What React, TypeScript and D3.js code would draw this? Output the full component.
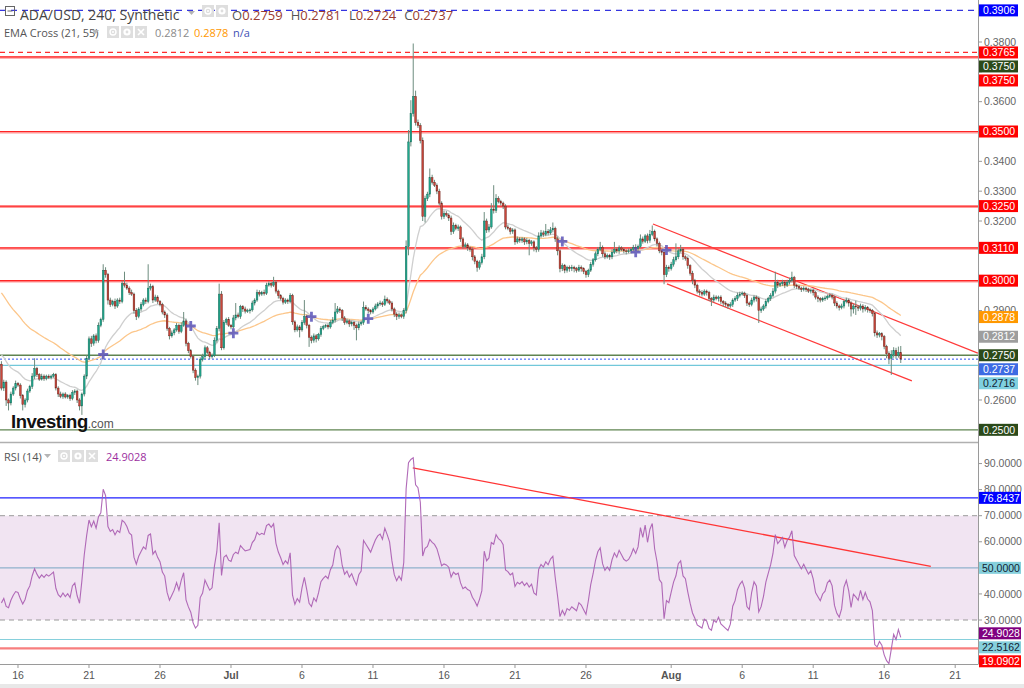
import React, { useMemo } from "react";
import * as d3 from "d3";

// ---------- DATA (prices in units of 0.0001) ----------
const firstCandleTime = Date.UTC(2023, 5, 14, 20); // 4h candles
const candleMs = 4 * 3600 * 1000;
const firstOpen = 2720;
const closes = [
  2640, 2660, 2600, 2590, 2620, 2640, 2655, 2650, 2615, 2585,
  2600, 2630, 2645, 2680, 2705, 2685, 2670, 2680, 2672, 2680,
  2675, 2680, 2685, 2640, 2620, 2612, 2620, 2610, 2615, 2605,
  2625, 2630, 2600, 2580, 2620, 2680, 2740, 2805, 2790, 2815,
  2800, 2850, 2870, 3035, 3020, 2935, 2920, 2930, 2915, 2935,
  2930, 2990, 2985, 2975, 2960, 2955, 2900, 2880, 2905, 2920,
  2935, 2930, 2975, 2980, 2935, 2945, 2930, 2920, 2895, 2885,
  2840, 2815, 2825, 2835, 2850, 2830, 2850, 2865, 2790, 2765,
  2745, 2700, 2675, 2680, 2735, 2745, 2775, 2760, 2745, 2750,
  2800, 2840, 2955, 2775, 2860, 2870, 2850, 2845, 2875, 2885,
  2880, 2913, 2905, 2898, 2900, 2902, 2925, 2935, 2960, 2955,
  2960, 2958, 2985, 2990, 2985, 2995, 2965, 2950, 2940, 2928,
  2935, 2930, 2950, 2862, 2835, 2845, 2835, 2860, 2880, 2850,
  2810, 2800, 2815, 2805, 2820, 2840, 2846, 2850, 2845, 2860,
  2868, 2895, 2905, 2900, 2875, 2860, 2865, 2855, 2860, 2850,
  2842, 2855, 2860, 2910, 2905, 2900, 2895, 2905, 2915, 2922,
  2925, 2920, 2938, 2932, 2925, 2905, 2888, 2880, 2885, 2880,
  2900, 3115, 3465, 3560, 3617, 3530, 3520, 3470, 3215, 3275,
  3290, 3345, 3330, 3320, 3300, 3260, 3215, 3225, 3220, 3210,
  3165, 3185, 3175, 3180, 3140, 3115, 3120, 3110, 3105, 3080,
  3065, 3045, 3060, 3080, 3200, 3170, 3180, 3240, 3235, 3275,
  3265, 3260, 3250, 3180, 3175, 3165, 3170, 3130, 3140, 3135,
  3140, 3130, 3135, 3125, 3130, 3110, 3105, 3150, 3160, 3155,
  3165, 3160, 3170, 3175, 3140, 3100, 3040, 3050, 3035, 3045,
  3040, 3045, 3040, 3035, 3045, 3040, 3030, 3020, 3035, 3055,
  3070, 3090, 3105, 3112, 3090, 3080, 3085, 3080, 3095, 3105,
  3100, 3110, 3105, 3100, 3098, 3100, 3105, 3112, 3108, 3115,
  3140, 3132, 3150, 3135, 3155, 3165, 3140, 3125, 3100, 3095,
  3020, 3045, 3040, 3055, 3070, 3080, 3100, 3105, 3080, 3075,
  3050, 3025, 3000, 2985, 2965, 2960, 2955, 2965, 2960, 2940,
  2935, 2945, 2940, 2945, 2930, 2925, 2920, 2915, 2920, 2935,
  2940, 2950, 2955, 2958, 2950, 2925, 2920, 2935, 2945, 2940,
  2900, 2905, 2915, 2930, 2940, 2950, 2965, 2995, 2985, 2990,
  2995, 2985, 2995, 3000, 3010, 2985, 2980, 2975, 2970, 2975,
  2970, 2965, 2968, 2960, 2945, 2940, 2935, 2940, 2942, 2948,
  2950, 2945, 2925, 2915, 2910, 2915, 2930, 2935, 2925, 2905,
  2915, 2912, 2908, 2915, 2905, 2910, 2903, 2900, 2890, 2825,
  2818, 2822, 2812, 2780, 2755, 2740, 2752, 2765, 2750, 2759,
  2737,
];
const upperWicks = [
  10, 8, 6, 5, 8, 6, 10, 5, 6, 5,
  6, 8, 6, 10, 35, 6, 5, 8, 6, 5,
  6, 5, 6, 5, 6, 8, 5, 6, 5, 6,
  8, 6, 5, 6, 5, 6, 10, 8, 10, 6,
  8, 10, 6, 20, 10, 6, 8, 6, 10, 6,
  8, 10, 40, 8, 6, 10, 5, 8, 6, 8,
  6, 8, 80, 10, 6, 8, 6, 5, 6, 5,
  6, 5, 8, 6, 8, 6, 10, 30, 8, 5,
  6, 5, 6, 5, 8, 10, 8, 6, 5, 6,
  10, 8, 35, 10, 8, 6, 8, 5, 10, 40,
  8, 6, 5, 8, 6, 5, 8, 6, 10, 8,
  6, 10, 8, 8, 6, 18, 6, 5, 5, 6,
  6, 5, 8, 6, 5, 8, 6, 8, 55, 6,
  5, 6, 8, 6, 5, 8, 6, 5, 6, 8,
  10, 30, 10, 6, 5, 6, 8, 5, 6, 5,
  6, 8, 6, 20, 8, 6, 5, 6, 8, 6,
  8, 6, 12, 6, 5, 6, 5, 6, 8, 5,
  8, 20, 40, 45, 178, 20, 10, 8, 10, 10,
  8, 31, 10, 8, 6, 8, 6, 10, 8, 6,
  8, 10, 6, 8, 5, 6, 8, 6, 5, 6,
  6, 5, 8, 10, 30, 8, 10, 20, 80, 15,
  8, 6, 5, 6, 8, 5, 6, 5, 8, 6,
  6, 5, 8, 5, 6, 5, 6, 12, 10, 8,
  25, 8, 10, 20, 6, 8, 5, 8, 6, 5,
  6, 8, 5, 6, 8, 6, 5, 6, 5, 8,
  6, 8, 8, 18, 6, 8, 6, 5, 10, 25,
  6, 8, 5, 6, 5, 8, 6, 8, 10, 6,
  15, 8, 6, 8, 15, 20, 6, 5, 6, 5,
  6, 8, 6, 8, 10, 45, 8, 15, 6, 5,
  6, 5, 8, 6, 5, 6, 8, 6, 5, 6,
  5, 8, 6, 5, 6, 5, 6, 5, 8, 6,
  8, 10, 8, 6, 5, 6, 5, 8, 6, 5,
  6, 8, 6, 8, 6, 8, 10, 35, 8, 6,
  8, 6, 8, 10, 20, 6, 5, 6, 5, 6,
  5, 6, 5, 6, 5, 6, 5, 6, 8, 6,
  8, 6, 5, 6, 5, 8, 6, 8, 5, 6,
  8, 18, 6, 8, 6, 8, 5, 6, 5, 6,
  8, 6, 5, 6, 5, 8, 15, 12, 10, 20,
  22,
];
const lowerWicks = [
  8, 10, 20, 25, 8, 6, 8, 6, 10, 20,
  10, 8, 6, 8, 10, 8, 6, 5, 8, 6,
  5, 6, 5, 8, 10, 6, 8, 5, 6, 8,
  6, 8, 10, 15, 30, 8, 10, 6, 12, 8,
  10, 8, 6, 8, 10, 15, 8, 6, 10, 6,
  8, 6, 8, 6, 8, 6, 10, 12, 6, 8,
  6, 8, 6, 8, 10, 6, 8, 6, 8, 10,
  8, 12, 6, 8, 6, 8, 6, 5, 10, 8,
  6, 10, 10, 25, 8, 6, 8, 6, 8, 6,
  6, 8, 10, 8, 6, 8, 5, 8, 6, 8,
  6, 8, 10, 8, 6, 10, 6, 8, 6, 8,
  6, 8, 6, 5, 8, 6, 8, 10, 6, 8,
  6, 8, 6, 10, 8, 6, 25, 6, 8, 10,
  32, 10, 8, 12, 6, 8, 6, 5, 8, 6,
  6, 8, 6, 8, 10, 8, 6, 10, 8, 15,
  42, 8, 6, 8, 6, 10, 8, 6, 5, 8,
  6, 8, 5, 8, 6, 8, 10, 12, 8, 6,
  8, 10, 30, 15, 10, 10, 8, 10, 15, 20,
  8, 10, 8, 6, 10, 8, 10, 8, 6, 10,
  12, 8, 6, 8, 10, 8, 6, 10, 8, 12,
  10, 15, 8, 6, 8, 10, 8, 6, 10, 8,
  6, 8, 10, 8, 6, 10, 8, 10, 6, 8,
  8, 10, 8, 40, 8, 12, 10, 8, 6, 8,
  6, 8, 6, 8, 10, 15, 12, 8, 10, 8,
  10, 8, 12, 8, 6, 10, 8, 10, 8, 6,
  8, 6, 8, 6, 10, 8, 6, 10, 8, 6,
  8, 10, 6, 8, 10, 6, 8, 6, 8, 10,
  6, 8, 6, 10, 8, 6, 8, 10, 8, 10,
  32, 8, 10, 6, 8, 6, 8, 6, 10, 8,
  10, 8, 12, 10, 8, 10, 8, 6, 10, 8,
  20, 8, 6, 10, 8, 12, 8, 10, 6, 8,
  6, 8, 6, 5, 8, 10, 8, 6, 8, 10,
  42, 8, 6, 8, 6, 8, 6, 8, 10, 6,
  8, 10, 6, 8, 6, 10, 8, 6, 8, 6,
  8, 6, 8, 10, 8, 12, 8, 6, 8, 6,
  6, 8, 10, 8, 10, 6, 8, 6, 12, 25,
  15, 27, 10, 8, 12, 8, 10, 8, 10, 12,
  10, 8, 12, 10, 15, 20, 56, 10, 12, 8,
  13,
];

// indicator seeds (values just before the first visible candle)
const ema21Seed = 0.2762;
const ema55Seed = 0.2971;
const rsiSeedGain = 0.0022;
const rsiSeedLoss = 0.0032;

// EMA cross markers (candle index)
const crossIndex = [43, 80, 98, 131, 155, 237, 268, 281];

// horizontal levels
const redSolidLevels = [0.375, 0.35, 0.325, 0.311, 0.3];
const redDashedLevel = 0.3765;
const blueDashedLevel = 0.3906;
const greenLevels = [0.275, 0.25];
const lastPriceLevel = 0.2737;
const cyanLevel = 0.2716;
const emaLast21 = 0.2812;
const emaLast55 = 0.2878;

// channel (candle index, price)
const channelUpper = [[275.3, 0.319], [412.6, 0.2757]];
const channelLower = [[281.2, 0.2989], [384.7, 0.2664]];

// RSI pane
const rsiBandTop = 70;
const rsiBandBottom = 30;
const rsiMid = 50;
const rsiBlueLevel = 76.8437;
const rsiCyanLevel = 22.5162;
const rsiRedLevel = 19.0902;
const rsiLast = 24.9028;
const rsiTrend = [[173.8, 88.3], [392.7, 50.6]];

const priceTicks = d3.range(25, 40).map((v) => v / 100);
const rsiTicks = [20, 30, 40, 50, 60, 70, 80, 90];
const xTickDates = [
  "2023-06-16", "2023-06-21", "2023-06-26", "2023-07-01", "2023-07-06",
  "2023-07-11", "2023-07-16", "2023-07-21", "2023-07-26", "2023-08-01",
  "2023-08-06", "2023-08-11", "2023-08-16", "2023-08-21",
];

const FONT = "'Liberation Sans', Arial, sans-serif";
const UIFONT = "'Open Sans', 'Noto Sans', sans-serif";

function stack(items: any[], gap: number) {
  const s = [...items].sort((a, b) => a.y0 - b.y0);
  let prev = -Infinity;
  s.forEach((it) => {
    it.y = Math.max(it.y0, prev + gap);
    prev = it.y;
  });
  return s;
}

function IconBoxes({ x, y, n }: { x: number; y: number; n: number }) {
  const out: any[] = [];
  for (let k = 0; k < n; k++) {
    const bx = x + k * 14;
    out.push(<rect key={"b" + k} x={bx} y={y} width={12} height={12} fill="#dedede" />);
    if (k === 0) {
      out.push(<circle key={"e" + k} cx={bx + 6} cy={y + 6} r={3} fill="none" stroke="#fff" strokeWidth={1.4} />);
      out.push(<circle key={"e2" + k} cx={bx + 6} cy={y + 6} r={1} fill="#fff" />);
    } else if (k === 1) {
      out.push(<circle key={"g" + k} cx={bx + 6} cy={y + 6} r={3.6} fill="#fff" />);
      out.push(<circle key={"g2" + k} cx={bx + 6} cy={y + 6} r={1.4} fill="#dedede" />);
    } else {
      out.push(<path key={"x" + k} d={`M${bx + 3},${y + 3}L${bx + 9},${y + 9}M${bx + 9},${y + 3}L${bx + 3},${y + 9}`} stroke="#fff" strokeWidth={1.6} />);
    }
  }
  return <g>{out}</g>;
}

function Caret({ x, y }: { x: number; y: number }) {
  return <path d={`M${x},${y}L${x + 7},${y}L${x + 3.5},${y + 4}Z`} fill="#b5b5b5" />;
}

export default function App() {
  const W = 1024, H = 688, R = 978;
  const pTop = 0, pBot = 442, rTop = 443, rBot = 664;

  const candles = useMemo(() => {
    const out: any[] = [];
    let prev = firstOpen;
    closes.forEach((c, i) => {
      const o = prev;
      out.push({
        i,
        t: new Date(firstCandleTime + i * candleMs),
        o: o / 1e4,
        c: c / 1e4,
        h: (Math.max(o, c) + upperWicks[i]) / 1e4,
        l: (Math.min(o, c) - lowerWicks[i]) / 1e4,
      });
      prev = c;
    });
    return out;
  }, []);

  const ema = (n: number, seed: number) => {
    const k = 2 / (n + 1);
    let e = seed;
    return candles.map((d) => {
      e = d.c * k + e * (1 - k);
      return { t: d.t, v: e };
    });
  };
  const ema21 = useMemo(() => ema(21, ema21Seed), [candles]);
  const ema55 = useMemo(() => ema(55, ema55Seed), [candles]);

  const rsi = useMemo(() => {
    let g = rsiSeedGain, l = rsiSeedLoss;
    let prev = firstOpen / 1e4;
    return candles.map((d) => {
      const ch = d.c - prev;
      prev = d.c;
      g = (g * 13 + Math.max(ch, 0)) / 14;
      l = (l * 13 + Math.max(-ch, 0)) / 14;
      return { t: d.t, v: 100 - 100 / (1 + g / l) };
    });
  }, [candles]);

  const x = d3
    .scaleUtc()
    .domain([new Date(Date.UTC(2023, 5, 14, 17, 35)), new Date(Date.UTC(2023, 7, 22, 14, 33))])
    .range([0, R]);
  const y = d3.scaleLinear().domain([0.24592, 0.39408]).range([pBot, pTop]);
  const yr = d3.scaleLinear().domain([13.13, 97.88]).range([rBot, rTop]);
  const tIdx = (i: number) => new Date(firstCandleTime + i * candleMs);

  const lineP = d3.line<any>().x((d) => x(d.t)).y((d) => y(d.v));
  const lineR = d3.line<any>().x((d) => x(d.t)).y((d) => yr(d.v));

  const bw = 1.7;

  const priceBadges = stack(
    [
      { v: blueDashedLevel, bg: "#0000ff", fg: "#fff" },
      { v: redDashedLevel, bg: "#ff0000", fg: "#fff" },
      { v: redSolidLevels[0], bg: "#2b4a1a", fg: "#fff" },
      ...redSolidLevels.map((v) => ({ v, bg: "#ff0000", fg: "#fff" })),
      { v: emaLast55, bg: "#ff9800", fg: "#fff" },
      { v: emaLast21, bg: "#9e9e9e", fg: "#fff" },
      { v: greenLevels[0], bg: "#2b4a1a", fg: "#fff" },
      { v: lastPriceLevel, bg: "#3d6be3", fg: "#fff" },
      { v: cyanLevel, bg: "#7fd0e0", fg: "#123" },
      { v: greenLevels[1], bg: "#2b4a1a", fg: "#fff" },
    ].map((b) => ({ ...b, y0: y(b.v) })),
    14
  );
  const rsiBadges = stack(
    [
      { v: rsiBlueLevel, bg: "#0000ff", fg: "#fff" },
      { v: rsiMid, bg: "#86d0dc", fg: "#123" },
      { v: rsiLast, bg: "#800080", fg: "#fff" },
      { v: rsiCyanLevel, bg: "#86d0dc", fg: "#123" },
      { v: rsiRedLevel, bg: "#ff0000", fg: "#fff" },
    ].map((b) => ({ ...b, y0: yr(b.v) })),
    14
  );

  const hideNear = (yy: number, badges: any[]) => badges.some((b) => Math.abs(b.y - yy) < 6);

  const fmtTick = (s: string) => {
    const d = new Date(s + "T00:00:00Z");
    return d.getUTCDate() === 1 ? d3.utcFormat("%b")(d) : String(d.getUTCDate());
  };

  const plus = "M-5,-1.4H-1.4V-5H1.4V-1.4H5V1.4H1.4V5H-1.4V1.4H-5Z";

  return (
    <div style={{ position: "absolute", left: 0, top: 0 }}>
      <svg width={W} height={H} style={{ display: "block", background: "#fff" }}>
        <defs>
          <clipPath id="cp">
            <rect x={0} y={pTop} width={R} height={pBot - pTop} />
          </clipPath>
          <clipPath id="cr">
            <rect x={0} y={rTop} width={R} height={rBot - rTop} />
          </clipPath>
        </defs>

        {/* ---------- PRICE PANE ---------- */}
        <g clipPath="url(#cp)">
          <line x1={0} x2={R} y1={y(blueDashedLevel)} y2={y(blueDashedLevel)} stroke="#3535e0" strokeDasharray="6,5" strokeWidth={1.2} />
          <line x1={0} x2={R} y1={y(redDashedLevel)} y2={y(redDashedLevel)} stroke="#ff2b2b" strokeDasharray="5,4" strokeWidth={1.2} />
          {redSolidLevels.map((v) => (
            <g key={"rl" + v}>
              <line x1={0} x2={R} y1={y(v) + 0.8} y2={y(v) + 0.8} stroke="#ff9a9a" strokeWidth={2.2} />
              <line x1={0} x2={R} y1={y(v)} y2={y(v)} stroke="#ff2424" strokeWidth={1.1} />
            </g>
          ))}
          {greenLevels.map((v) => (
            <line key={"gl" + v} x1={0} x2={R} y1={y(v)} y2={y(v)} stroke="#5f8450" strokeWidth={1.3} />
          ))}
          <line x1={0} x2={R} y1={y(lastPriceLevel)} y2={y(lastPriceLevel)} stroke="#2d4ff0" strokeDasharray="2,2" strokeWidth={1} />
          <line x1={0} x2={R} y1={y(cyanLevel)} y2={y(cyanLevel)} stroke="#72c8da" strokeWidth={1.2} />

          {[channelUpper, channelLower].map((seg, k) => (
            <line
              key={"ch" + k}
              x1={x(tIdx(seg[0][0]))}
              y1={y(seg[0][1])}
              x2={x(tIdx(seg[1][0]))}
              y2={y(seg[1][1])}
              stroke="#ff3a3a"
              strokeWidth={1.3}
            />
          ))}

          <path d={lineP(ema55) || ""} fill="none" stroke="#fcc68a" strokeWidth={1.3} />
          <path d={lineP(ema21) || ""} fill="none" stroke="#cfcfcf" strokeWidth={1.3} />

          {candles.map((d) => {
            const cx = x(d.t);
            const up = d.c >= d.o;
            const yt = y(Math.max(d.o, d.c));
            const yb = y(Math.min(d.o, d.c));
            return (
              <g key={"c" + d.i}>
                <line x1={cx} x2={cx} y1={y(d.h)} y2={y(d.l)} stroke="#6d8c7e" strokeWidth={1} />
                <rect
                  x={cx - bw / 2}
                  y={yt}
                  width={bw}
                  height={Math.max(0.9, yb - yt)}
                  fill={up ? "#20a88e" : "#c9463a"}
                  stroke={up ? "#1d6e5c" : "#6f241d"}
                  strokeWidth={0.45}
                />
              </g>
            );
          })}

          {crossIndex.map((i) => (
            <path key={"x" + i} d={plus} transform={`translate(${x(tIdx(i))},${y(ema21[i].v)})`} fill="#5a53b8" fillOpacity={0.85} />
          ))}
        </g>

        {/* Investing logo */}
        <text x={11} y={428} fontFamily={FONT} fontWeight="bold" fontSize={18.5} letterSpacing={-0.5} fill="#111">
          Investing
          <tspan fontWeight="normal" fontSize={12} fill="#555" letterSpacing={0}>.com</tspan>
        </text>

        {/* header legend */}
        <rect x={5.5} y={6.5} width={9} height={9} fill="none" stroke="#666" strokeWidth={1} />
        <line x1={7.5} x2={12.5} y1={11} y2={11} stroke="#666" strokeWidth={1} />
        <text x={20} y={20} fontFamily={UIFONT} fontSize={14} fill="#444">ADA/USD, 240, Synthetic</text>
        <Caret x={188} y={11} />
        <IconBoxes x={202} y={5} n={2} />
        <text x={232} y={20} fontFamily={UIFONT} fontSize={13}>
          <tspan fill="#555">O</tspan>
          <tspan fill="#993a30">{(closes[379] / 1e4).toFixed(4)}</tspan>
          <tspan fill="#555" dx={8}>H</tspan>
          <tspan fill="#993a30">{candles[380].h.toFixed(4)}</tspan>
          <tspan fill="#555" dx={8}>L</tspan>
          <tspan fill="#993a30">{candles[380].l.toFixed(4)}</tspan>
          <tspan fill="#555" dx={8}>C</tspan>
          <tspan fill="#993a30">{candles[380].c.toFixed(4)}</tspan>
        </text>

        <text x={4} y={37} fontFamily={UIFONT} fontSize={11} fill="#555">EMA Cross (21, 55)</text>
        <Caret x={92} y={30} />
        <IconBoxes x={107} y={26} n={3} />
        <text x={155} y={37} fontFamily={UIFONT} fontSize={11} fill="#8a8a8a">{emaLast21.toFixed(4)}</text>
        <text x={194} y={37} fontFamily={UIFONT} fontSize={11} fill="#ff9800">{emaLast55.toFixed(4)}</text>
        <text x={233} y={37} fontFamily={UIFONT} fontSize={11} fill="#3f51b5">n/a</text>

        {/* ---------- RSI PANE ---------- */}
        <line x1={0} x2={R} y1={rTop - 0.5} y2={rTop - 0.5} stroke="#b0b0b0" strokeWidth={1.6} />
        <g clipPath="url(#cr)">
          <rect x={0} y={yr(rsiBandTop)} width={R} height={yr(rsiBandBottom) - yr(rsiBandTop)} fill="#f1e4f2" />
          <line x1={0} x2={R} y1={yr(rsiBandTop)} y2={yr(rsiBandTop)} stroke="#9a9a9a" strokeDasharray="5,4" />
          <line x1={0} x2={R} y1={yr(rsiBandBottom)} y2={yr(rsiBandBottom)} stroke="#9a9a9a" strokeDasharray="5,4" />
          <line x1={0} x2={R} y1={yr(rsiBlueLevel)} y2={yr(rsiBlueLevel)} stroke="#2020ff" strokeWidth={1.1} />
          <line x1={0} x2={R} y1={yr(rsiMid)} y2={yr(rsiMid)} stroke="#8fb2cc" strokeWidth={1.1} />
          <line x1={0} x2={R} y1={yr(rsiCyanLevel)} y2={yr(rsiCyanLevel)} stroke="#86d0dc" strokeWidth={1.1} />
          <line x1={0} x2={R} y1={yr(rsiRedLevel)} y2={yr(rsiRedLevel)} stroke="#f77e7e" strokeWidth={2.2} />
          <line
            x1={x(tIdx(rsiTrend[0][0]))}
            y1={yr(rsiTrend[0][1])}
            x2={x(tIdx(rsiTrend[1][0]))}
            y2={yr(rsiTrend[1][1])}
            stroke="#ff3535"
            strokeWidth={1.3}
          />
          <path d={lineR(rsi) || ""} fill="none" stroke="#a95bb0" strokeWidth={1.1} strokeOpacity={0.9} />
        </g>
        <text x={4} y={461} fontFamily={UIFONT} fontSize={11} fill="#555">RSI (14)</text>
        <Caret x={44} y={454} />
        <IconBoxes x={58} y={450} n={3} />
        <text x={106} y={461} fontFamily={UIFONT} fontSize={11} fill="#9c2fa0">{rsiLast.toFixed(4)}</text>

        {/* ---------- RIGHT AXIS ---------- */}
        <line x1={R + 0.5} x2={R + 0.5} y1={0} y2={rBot} stroke="#9a9a9a" strokeWidth={1} />
        {priceTicks.map((v) => {
          const yy = y(v);
          if (yy < 2 || yy > pBot - 2) return null;
          return (
            <g key={"pt" + v}>
              <line x1={R} x2={R + 4} y1={yy} y2={yy} stroke="#999" />
              {!hideNear(yy, priceBadges) && (
                <text x={R + 6} y={yy + 3.6} fontFamily={FONT} fontSize={10.5} fill="#666">{v.toFixed(4)}</text>
              )}
            </g>
          );
        })}
        {rsiTicks.map((v) => {
          const yy = yr(v);
          return (
            <g key={"rt" + v}>
              <line x1={R} x2={R + 4} y1={yy} y2={yy} stroke="#999" />
              {!hideNear(yy, rsiBadges) && (
                <text x={R + 6} y={yy + 3.6} fontFamily={FONT} fontSize={10.5} fill="#666">{v.toFixed(4)}</text>
              )}
            </g>
          );
        })}
        {priceBadges.map((b, k) => (
          <g key={"pb" + k}>
            <rect x={R + 1} y={b.y - 6} width={39} height={12} fill={b.bg} />
            <text x={R + 5} y={b.y + 3.7} fontFamily={FONT} fontSize={10.5} fill={b.fg}>{b.v.toFixed(4)}</text>
          </g>
        ))}
        {rsiBadges.map((b, k) => (
          <g key={"rb" + k}>
            <rect x={R + 1} y={b.y - 6} width={42} height={12} fill={b.bg} />
            <text x={R + 4} y={b.y + 3.7} fontFamily={FONT} fontSize={10.5} fill={b.fg}>{b.v.toFixed(4)}</text>
          </g>
        ))}

        {/* ---------- X AXIS ---------- */}
        <line x1={0} x2={R + 0.5} y1={rBot + 0.5} y2={rBot + 0.5} stroke="#9a9a9a" />
        {xTickDates.map((s) => {
          const xx = x(new Date(s + "T00:00:00Z"));
          const lbl = fmtTick(s);
          const bold = isNaN(Number(lbl));
          return (
            <g key={"xt" + s}>
              <line x1={xx} x2={xx} y1={rBot} y2={rBot + 4} stroke="#999" />
              <text x={xx} y={rBot + 15} textAnchor="middle" fontFamily={FONT} fontSize={10.5} fontWeight={bold ? "bold" : "normal"} fill="#555">
                {lbl}
              </text>
            </g>
          );
        })}
        <rect x={0} y={684} width={W} height={4} fill="#e8e8e8" />
      </svg>
    </div>
  );
}
